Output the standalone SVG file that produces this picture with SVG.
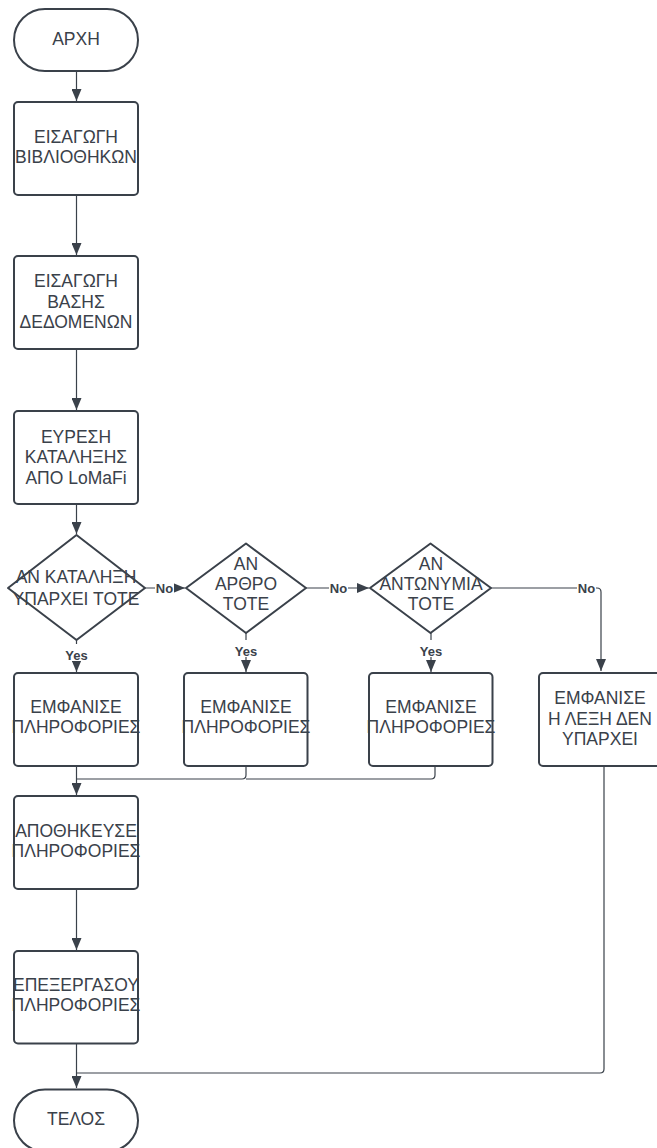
<svg xmlns="http://www.w3.org/2000/svg" width="657" height="1148" viewBox="0 0 657 1148">
<style>
.n{fill:#ffffff;stroke:#3a414a;stroke-width:2}
.t{font-family:"Liberation Sans",Arial,sans-serif;font-size:17.5px;fill:#3a414a;text-anchor:middle}
.c{fill:none;stroke:#3a414a;stroke-width:1.2}
.l{font-family:"Liberation Sans",Arial,sans-serif;font-size:13px;font-weight:bold;fill:#3a414a;text-anchor:middle}
.bg{fill:#ffffff}
</style>
<defs>
<marker id="ah" viewBox="0 0 12 10" refX="12" refY="5" markerWidth="12" markerHeight="10" markerUnits="userSpaceOnUse" orient="auto">
<path d="M0,0 L12,5 L0,10 z" fill="#3a414a"/>
</marker>
</defs>
<rect width="657" height="1148" fill="#ffffff"/>
<g id="connectors">
<path class="c" d="M76.5,71 V101" marker-end="url(#ah)"/>
<path class="c" d="M76.5,195 V255" marker-end="url(#ah)"/>
<path class="c" d="M76.5,349 V410" marker-end="url(#ah)"/>
<path class="c" d="M76.5,504 V534" marker-end="url(#ah)"/>
<path class="c" d="M145,588 H185" marker-end="url(#ah)"/>
<path class="c" d="M306,588 H369" marker-end="url(#ah)"/>
<path class="c" d="M491,588 H597 Q601,588 601,592 V671" marker-end="url(#ah)"/>
<path class="c" d="M76.5,640 V672" marker-end="url(#ah)"/>
<path class="c" d="M246,633 V672" marker-end="url(#ah)"/>
<path class="c" d="M431,633 V672" marker-end="url(#ah)"/>
<path class="c" d="M76.5,766 V795" marker-end="url(#ah)"/>
<path class="c" d="M246,766 V775 Q246,779 242,779 H76.5"/>
<path class="c" d="M435,766 V775 Q435,779 431,779 H246"/>
<path class="c" d="M76.5,889 V950" marker-end="url(#ah)"/>
<path class="c" d="M76.5,1043 V1088" marker-end="url(#ah)"/>
<path class="c" d="M604,766 V1069 Q604,1073 600,1073 H76.5"/>
<rect class="bg" x="155" y="578" width="19" height="16"/>
<text class="l" x="164.5" y="592.5">No</text>
<rect class="bg" x="329" y="578" width="19" height="16"/>
<text class="l" x="338.5" y="592.5">No</text>
<rect class="bg" x="577" y="578" width="19" height="16"/>
<text class="l" x="586.5" y="592.5">No</text>
<rect class="bg" x="63" y="644" width="27" height="17"/>
<text class="l" x="76.5" y="659.5">Yes</text>
<rect class="bg" x="233" y="640" width="27" height="17"/>
<text class="l" x="246" y="655.5">Yes</text>
<rect class="bg" x="418" y="640" width="27" height="17"/>
<text class="l" x="431" y="655.5">Yes</text>
</g>
<g id="start">
<rect class="n" x="14" y="9" width="124" height="62" rx="31"/>
<text class="t" x="76" y="45">ΑΡΧΗ</text>
</g>
<g id="import-libs">
<rect class="n" x="14" y="102" width="124" height="93" rx="4"/>
<text class="t" x="76" y="142.7">ΕΙΣΑΓΩΓΗ</text>
<text class="t" x="76" y="163.3">ΒΙΒΛΙΟΘΗΚΩΝ</text>
</g>
<g id="import-db">
<rect class="n" x="14" y="256" width="124" height="93" rx="4"/>
<text class="t" x="76" y="287.3">ΕΙΣΑΓΩΓΗ</text>
<text class="t" x="76" y="307.8">ΒΑΣΗΣ</text>
<text class="t" x="76" y="328.3">ΔΕΔΟΜΕΝΩΝ</text>
</g>
<g id="find-ending">
<rect class="n" x="14" y="411" width="124" height="93" rx="4"/>
<text class="t" x="76" y="442.7">ΕΥΡΕΣΗ</text>
<text class="t" x="76" y="463.3">ΚΑΤΑΛΗΞΗΣ</text>
<text class="t" x="76" y="483.5">ΑΠΟ LoMaFi</text>
</g>
<g id="dec-ending">
<path class="n" d="M76.5,535 L145,588 L76.5,640 L8,588 Z" stroke-linejoin="round"/>
<text class="t" x="76" y="582.5">ΑΝ ΚΑΤΑΛΗΞΗ</text>
<text class="t" x="76" y="604.5">ΥΠΑΡΧΕΙ ΤΟΤΕ</text>
</g>
<g id="dec-article">
<path class="n" d="M246,543.5 L306,588 L246,633 L186,588 Z" stroke-linejoin="round"/>
<text class="t" x="246" y="569.5">ΑΝ</text>
<text class="t" x="246" y="589.5">ΑΡΘΡΟ</text>
<text class="t" x="246" y="609.5">ΤΟΤΕ</text>
</g>
<g id="dec-pronoun">
<path class="n" d="M430.5,543.5 L491,588 L430.5,633 L370,588 Z" stroke-linejoin="round"/>
<text class="t" x="431" y="569.5">ΑΝ</text>
<text class="t" x="431" y="589.5">ΑΝΤΩΝΥΜΙΑ</text>
<text class="t" x="431" y="609.5">ΤΟΤΕ</text>
</g>
<g id="show-info-1">
<rect class="n" x="14" y="673" width="124" height="93" rx="4"/>
<text class="t" x="76" y="713.3">ΕΜΦΑΝΙΣΕ</text>
<text class="t" x="76" y="733.3">ΠΛΗΡΟΦΟΡΙΕΣ</text>
</g>
<g id="show-info-2">
<rect class="n" x="184" y="673" width="123.5" height="93" rx="4"/>
<text class="t" x="246" y="713.3">ΕΜΦΑΝΙΣΕ</text>
<text class="t" x="246" y="733.3">ΠΛΗΡΟΦΟΡΙΕΣ</text>
</g>
<g id="show-info-3">
<rect class="n" x="369" y="673" width="123.5" height="93" rx="4"/>
<text class="t" x="431" y="713.3">ΕΜΦΑΝΙΣΕ</text>
<text class="t" x="431" y="733.3">ΠΛΗΡΟΦΟΡΙΕΣ</text>
</g>
<g id="not-found">
<rect class="n" x="539" y="673" width="124" height="93" rx="4"/>
<text class="t" x="600" y="704">ΕΜΦΑΝΙΣΕ</text>
<text class="t" x="600" y="725">Η ΛΕΞΗ ΔΕΝ</text>
<text class="t" x="600" y="745">ΥΠΑΡΧΕΙ</text>
</g>
<g id="store-info">
<rect class="n" x="14" y="796" width="124" height="93" rx="4"/>
<text class="t" x="76" y="836.7">ΑΠΟΘΗΚΕΥΣΕ</text>
<text class="t" x="76" y="856.7">ΠΛΗΡΟΦΟΡΙΕΣ</text>
</g>
<g id="process-info">
<rect class="n" x="14" y="951" width="124" height="92.5" rx="4"/>
<text class="t" x="76" y="990.7">ΕΠΕΞΕΡΓΑΣΟΥ</text>
<text class="t" x="76" y="1010.7">ΠΛΗΡΟΦΟΡΙΕΣ</text>
</g>
<g id="end">
<rect class="n" x="14" y="1089.5" width="124" height="62" rx="31"/>
<text class="t" x="76" y="1125">ΤΕΛΟΣ</text>
</g>
</svg>
